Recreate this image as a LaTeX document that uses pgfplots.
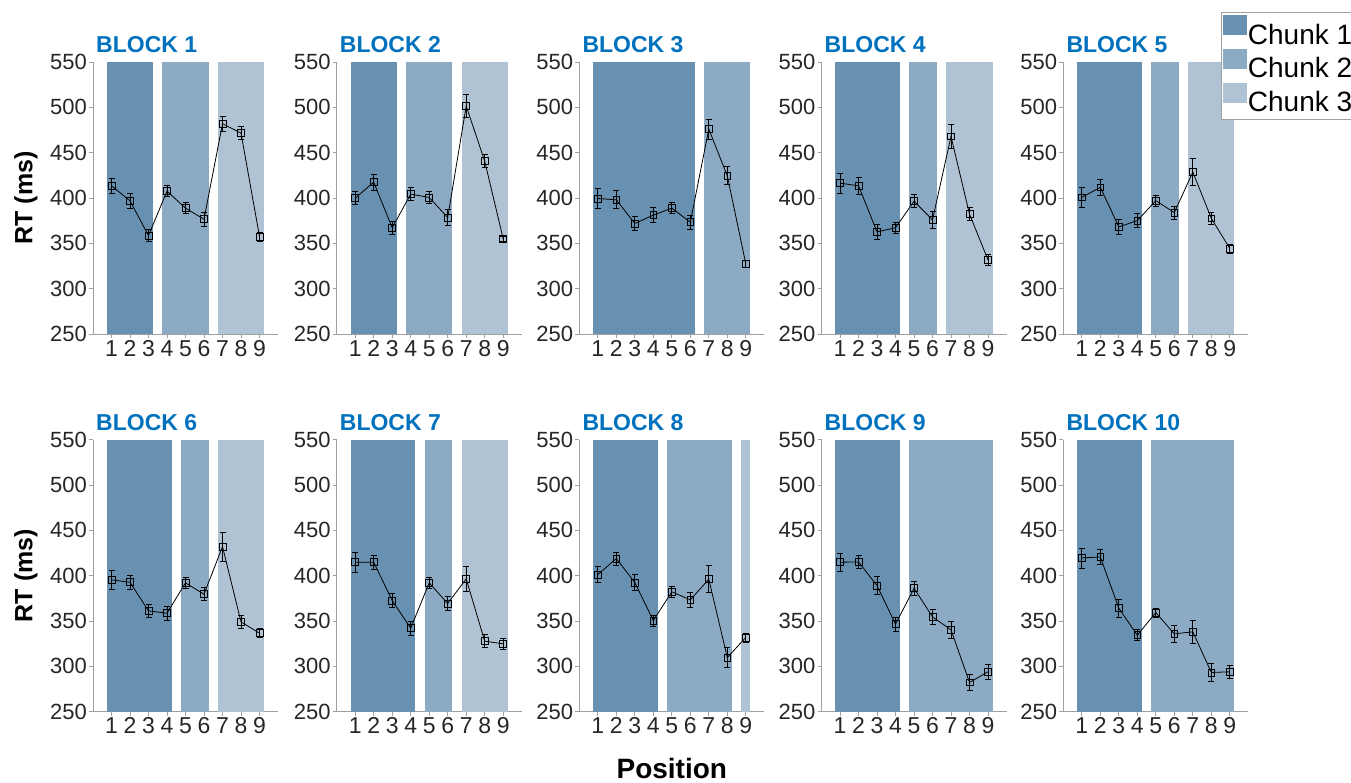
\documentclass[border=0pt]{standalone}
\usepackage{fontspec}
\setmainfont{Liberation Sans}
\usepackage{pgfplots}
\pgfplotsset{compat=1.18}
\definecolor{cA}{HTML}{6890B0}
\definecolor{cB}{HTML}{8DAAC4}
\definecolor{cC}{HTML}{B0C3D4}
\definecolor{titleblue}{HTML}{0072BD}
\definecolor{axgray}{HTML}{A0A0A0}
\definecolor{tickgray}{HTML}{262626}
\newcommand{\chunk}[3]{\addplot[fill=#1, draw=none, forget plot] coordinates {(#2,250) (#2,550) (#3,550) (#3,250)} -- cycle;}
\newcommand{\chunkL}[3]{\addplot[fill=#1, draw=none,
  legend image code/.code={\path[fill=#1, draw=none] (0pt,-0.3pt) rectangle (24pt,19.7pt);}]
  coordinates {(#2,250) (#2,550) (#3,550) (#3,250)} -- cycle;}
\pgfplotsset{
  blk/.style={
    scale only axis, width=185pt, height=272pt,
    anchor=south west,
    xmin=0, xmax=10, ymin=250, ymax=550,
    axis x line*=bottom, axis y line*=left,
    axis line style={draw=axgray, line width=0.8pt, -},
    xtick={1,2,...,9}, ytick={250,300,...,550},
    tick style={draw=axgray, line width=0.8pt},
    tick align=outside, major tick length=4pt,
    /pgf/number format/assume math mode=true,
    yticklabel style={font=\fontsize{22}{22}\selectfont, text=tickgray, inner sep=2pt},
    xticklabel style={font=\fontsize{23}{23}\selectfont, text=tickgray, inner sep=2pt},
    title style={at={(0,1)}, anchor=base west, xshift=3pt, yshift=3.5pt,
      font=\bfseries\fontsize{23}{23}\selectfont, text=titleblue, inner sep=0pt},
  },
  dat/.style={black, line width=0.8pt, mark=square, mark size=3.4pt,
    mark options={line width=0.7pt, solid}, forget plot,
    error bars/.cd, y dir=both, y explicit,
    error bar style={line width=0.8pt, black},
    error mark options={rotate=90, mark size=3pt, line width=0.8pt, black}},
  rtlab/.style={ylabel={RT (ms)}, ylabel style={at={(axis description cs:-0.362,0.5)}, anchor=center,
      font=\bfseries\fontsize{25}{25}\selectfont, text=black}},
}
\begin{document}
\begin{tikzpicture}
% ---------- Row 1 ----------
\begin{axis}[blk, rtlab, at={(93pt,-334pt)}, title={BLOCK 1}]
\chunk{cA}{0.75}{3.25}\chunk{cB}{3.75}{6.25}\chunk{cC}{6.75}{9.25}
\addplot[dat] coordinates {(1,413.5)+-(0,8) (2,396.9)+-(0,8) (3,358.6)+-(0,7) (4,407.6)+-(0,6) (5,388.8)+-(0,6) (6,376.6)+-(0,8) (7,481.9)+-(0,8) (8,471.6)+-(0,7) (9,357.5)+-(0,5)};
\end{axis}
\begin{axis}[blk, at={(336.7pt,-334pt)}, title={BLOCK 2}]
\chunk{cA}{0.75}{3.25}\chunk{cB}{3.75}{6.25}\chunk{cC}{6.75}{9.25}
\addplot[dat] coordinates {(1,399.8)+-(0,7) (2,417.5)+-(0,9) (3,367.1)+-(0,7) (4,404.3)+-(0,7) (5,400.6)+-(0,7) (6,378.5)+-(0,9) (7,501.4)+-(0,13) (8,440.7)+-(0,7) (9,354.9)+-(0,3)};
\end{axis}
\begin{axis}[blk, at={(579.3pt,-334pt)}, title={BLOCK 3}]
\chunk{cA}{0.75}{6.25}\chunk{cB}{6.75}{9.25}
\addplot[dat] coordinates {(1,399.5)+-(0,11) (2,398.0)+-(0,10) (3,371.9)+-(0,8) (4,381.1)+-(0,8) (5,388.8)+-(0,6) (6,373.3)+-(0,8) (7,476.0)+-(0,11) (8,424.5)+-(0,10) (9,327.3)+-(0,4)};
\end{axis}
\begin{axis}[blk, at={(821.5pt,-334pt)}, title={BLOCK 4}]
\chunk{cA}{0.75}{4.25}\chunk{cB}{4.75}{6.25}\chunk{cC}{6.75}{9.25}
\addplot[dat] coordinates {(1,416.4)+-(0,11) (2,413.5)+-(0,9) (3,362.7)+-(0,8) (4,367.1)+-(0,6) (5,396.5)+-(0,7) (6,375.9)+-(0,9) (7,467.9)+-(0,13) (8,382.2)+-(0,7) (9,331.7)+-(0,6)};
\end{axis}
\begin{axis}[blk, at={(1063.3pt,-334pt)}, title={BLOCK 5},
  legend style={at={(0.851,1.183)}, anchor=north west, draw=axgray, fill=white,
    font=\fontsize{28}{28}\selectfont, legend cell align=left, inner xsep=2pt, inner ysep=3pt,
    row sep=0pt, column sep=0pt, nodes={inner sep=1pt, text height=22pt, text depth=4pt}}]
\chunkL{cA}{0.75}{4.25}\chunkL{cB}{4.75}{6.25}\chunkL{cC}{6.75}{9.25}
\addplot[dat] coordinates {(1,400.7)+-(0,11) (2,411.8)+-(0,9) (3,368.1)+-(0,8) (4,375.1)+-(0,8) (5,397.1)+-(0,6) (6,383.9)+-(0,7) (7,428.6)+-(0,15) (8,377.6)+-(0,7) (9,344.3)+-(0,5)};
\legend{Chunk 1, Chunk 2, Chunk 3}
\end{axis}
% ---------- Row 2 ----------
\begin{axis}[blk, rtlab, at={(93pt,-711.7pt)}, title={BLOCK 6}]
\chunk{cA}{0.75}{4.25}\chunk{cB}{4.75}{6.25}\chunk{cC}{6.75}{9.25}
\addplot[dat] coordinates {(1,395.4)+-(0,10) (2,392.8)+-(0,8) (3,361.2)+-(0,7) (4,358.7)+-(0,8) (5,392.1)+-(0,6) (6,379.6)+-(0,7) (7,432.1)+-(0,16) (8,349.1)+-(0,7) (9,336.6)+-(0,5)};
\end{axis}
\begin{axis}[blk, at={(336.7pt,-711.7pt)}, title={BLOCK 7}]
\chunk{cA}{0.75}{4.25}\chunk{cB}{4.75}{6.25}\chunk{cC}{6.75}{9.25}
\addplot[dat] coordinates {(1,414.9)+-(0,11) (2,414.9)+-(0,8) (3,372.6)+-(0,8) (4,342.1)+-(0,8) (5,392.1)+-(0,6) (6,369.3)+-(0,8) (7,396.5)+-(0,14) (8,327.8)+-(0,7) (9,324.9)+-(0,6)};
\end{axis}
\begin{axis}[blk, at={(579.3pt,-711.7pt)}, title={BLOCK 8},
  xlabel={Position}, xlabel style={at={(axis description cs:0.5,0)}, anchor=base, yshift=-67pt,
    font=\bfseries\fontsize{28}{28}\selectfont, text=black}]
\chunk{cA}{0.75}{4.25}\chunk{cB}{4.75}{8.25}\chunk{cC}{8.75}{9.25}
\addplot[dat] coordinates {(1,401.3)+-(0,9) (2,418.9)+-(0,7) (3,392.5)+-(0,9) (4,350.6)+-(0,6) (5,382.2)+-(0,6) (6,373.4)+-(0,8) (7,396.1)+-(0,15) (8,309.8)+-(0,11) (9,331.9)+-(0,5)};
\end{axis}
\begin{axis}[blk, at={(821.5pt,-711.7pt)}, title={BLOCK 9}]
\chunk{cA}{0.75}{4.25}\chunk{cB}{4.75}{9.25}
\addplot[dat] coordinates {(1,414.9)+-(0,10) (2,415.2)+-(0,7) (3,389.1)+-(0,10) (4,346.5)+-(0,8) (5,386.2)+-(0,8) (6,354.6)+-(0,8) (7,340.3)+-(0,9) (8,282.3)+-(0,9) (9,294.0)+-(0,8)};
\end{axis}
\begin{axis}[blk, at={(1063.3pt,-711.7pt)}, title={BLOCK 10}]
\chunk{cA}{0.75}{4.25}\chunk{cB}{4.75}{9.25}
\addplot[dat] coordinates {(1,419.6)+-(0,11) (2,420.7)+-(0,8) (3,364.2)+-(0,10) (4,334.4)+-(0,6) (5,359.4)+-(0,5) (6,335.9)+-(0,9) (7,338.1)+-(0,13) (8,293.3)+-(0,10) (9,294.0)+-(0,7)};
\end{axis}
\pgfresetboundingbox
\useasboundingbox (0pt,0pt) rectangle (1351pt,-782pt);
\end{tikzpicture}
\end{document}
